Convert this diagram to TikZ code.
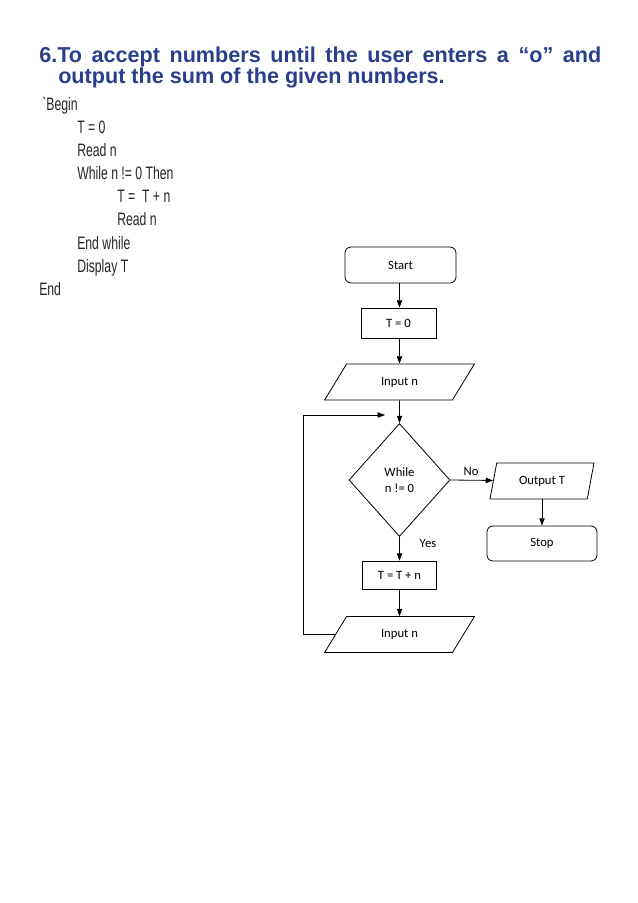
\documentclass[tikz,border=0pt]{standalone}
\usepackage{fontspec}
\setmainfont{Carlito}
\newfontfamily\titlefont{Liberation Sans}
\newfontfamily\codefont[FakeStretch=0.68]{Liberation Sans}
\usetikzlibrary{shapes.geometric,arrows.meta}
\definecolor{titleblue}{RGB}{42,62,140}
\begin{document}
\begin{tikzpicture}[x=0.75pt,y=-0.75pt]

\def\chartsize{\fontsize{9.5}{11.5}\selectfont}
\def\codesize{\fontsize{13.5}{15}\selectfont}
\def\colx{399.5}

\tikzset{arrow/.style = {-{Triangle[length=5.5pt,width=4pt]}, line width=0.6pt},
         term/.style = {draw, line width=0.6pt, rounded corners=4.5pt, inner sep=0pt, font=\chartsize},
         proc/.style = {draw, line width=0.6pt, inner sep=0pt, font=\chartsize},
         io/.style = {draw, line width=0.6pt, trapezium, trapezium stretches=true, inner sep=0pt, font=\chartsize},
         cond/.style = {draw, line width=0.6pt, diamond, inner sep=0pt, align=center, font=\chartsize},
         title/.style = {anchor=base west, inner sep=0pt, text=titleblue, font=\titlefont\bfseries\fontsize{16.2}{19}\selectfont},
         code/.style = {anchor=base west, inner sep=0pt, text=black!85, font=\codefont\codesize}}

\useasboundingbox (0,0) rectangle (638,903);

% heading
\node[title] (head1) at (39,62.7) {\makebox[421.5pt][s]{6.To accept numbers until the user enters a “o” and}};
\node[title] (head2) at (58,83) {output the sum of the given numbers.};

% pseudocode
\node[code] (c1) at (42,110.5) {\symbol{"60}Begin};
\node[code] (c2) at (77,133.5) {T = 0};
\node[code] (c3) at (77,156.5) {Read n};
\node[code] (c4) at (77,179.5) {While n != 0 Then};
\node[code] (c5) at (117,202.5) {T =~ T + n};
\node[code] (c6) at (117,225.5) {Read n};
\node[code] (c7) at (77,249.5) {End while};
\node[code] (c8) at (77,272.5) {Display T};
\node[code] (c9) at (39,295.5) {End};

% flowchart
\node[term, minimum width=83.25pt, minimum height=27pt] (start) at (\colx+1,265) {Start};
\node[proc, minimum width=56.25pt, minimum height=22.5pt] (init) at (\colx-1,323) {T = 0};
\node[io, trapezium left angle=53, trapezium right angle=127, minimum width=112.5pt, minimum height=27pt] (in1) at (\colx,382) {Input n};
\node[cond, minimum width=75.75pt, minimum height=84.75pt] (test) at (\colx,480) {While\\n != 0};
\node[proc, minimum width=55.5pt, minimum height=21pt] (add) at (\colx,575) {T = T + n};
\node[io, trapezium left angle=53, trapezium right angle=127, minimum width=112.5pt, minimum height=27pt] (in2) at (\colx,634.5) {Input n};
\node[io, trapezium left angle=71.6, trapezium right angle=108.4, minimum width=78pt, minimum height=27pt] (out) at (542,481) {Output T};
\node[term, minimum width=82.5pt, minimum height=26.25pt] (stop) at (542,543.5) {Stop};

\node[font=\chartsize, inner sep=0pt] (no) at (471,471) {No};
\node[font=\chartsize, inner sep=0pt] (yes) at (428,543) {Yes};

\coordinate (loopl) at (303,415);
\coordinate (loopin) at (385,415);

\draw[arrow] (in1.south |- start.south) -- (in1.south |- init.north);
\draw[arrow] (in1.south |- init.south) -- (in1.north);
\draw[arrow] (in1.south) -- (test.north);
\draw[arrow] (test.south) -- (add.north);
\draw[arrow] (add.south) -- (in2.north);
\draw[arrow] (test.east) -- (out);
\draw[arrow] (out.south) -- (out.south |- stop.north);
\draw[arrow] (in2.west) -| (loopl) |- (loopin);

\end{tikzpicture}
\end{document}
